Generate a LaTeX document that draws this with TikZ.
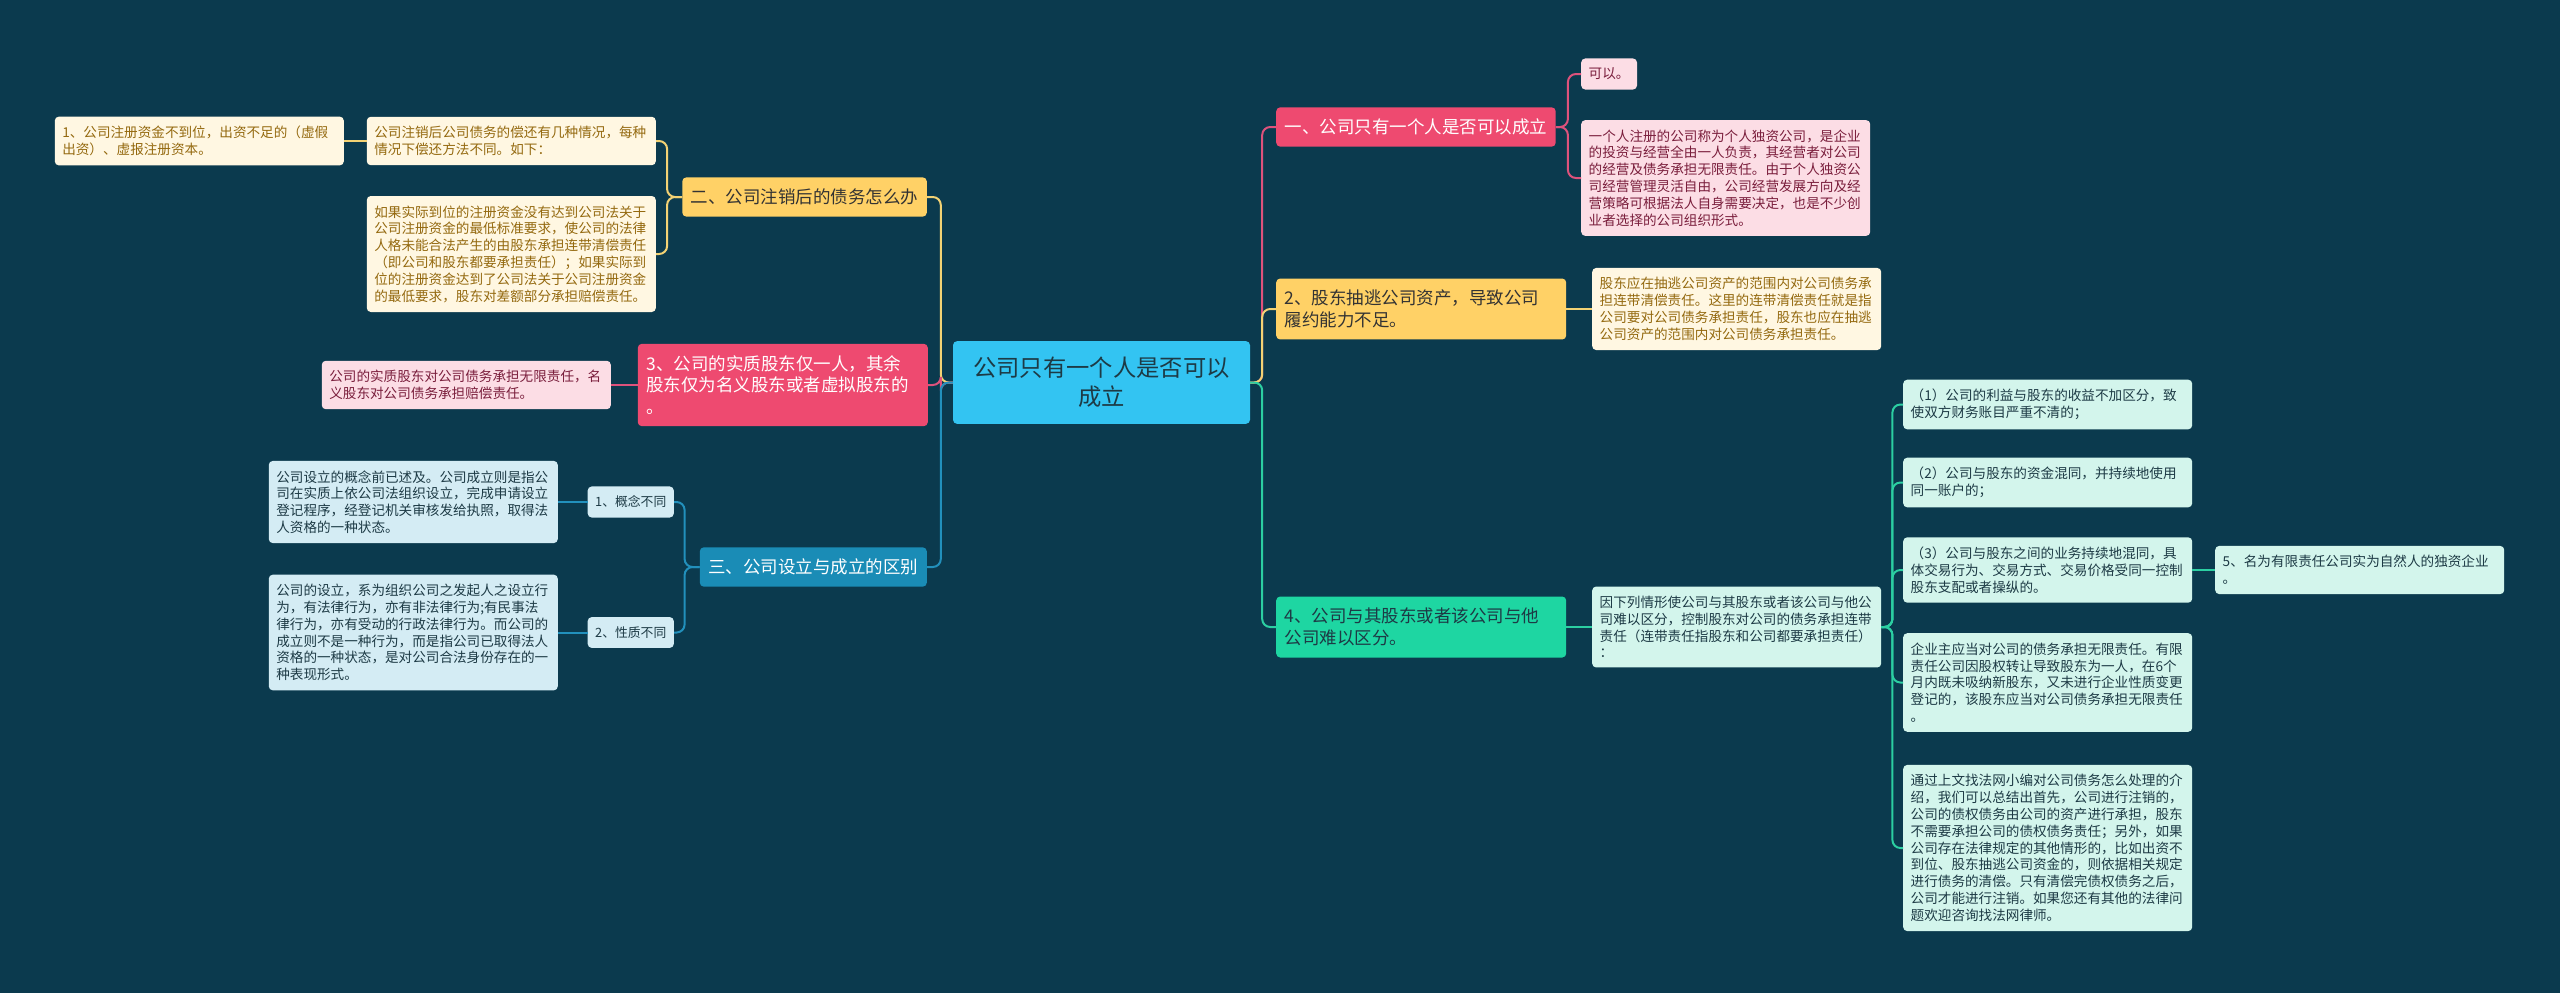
\documentclass[tikz,border=0pt]{standalone}
\usepackage{fontspec}
\setmainfont{Noto Sans CJK SC}
\usetikzlibrary{positioning,calc}
\definecolor{bgc}{HTML}{0B3A4E}
\definecolor{rootc}{HTML}{33C4F2}
\definecolor{redc}{HTML}{EE4A70}
\definecolor{yelc}{HTML}{FFD166}
\definecolor{grnc}{HTML}{1ED6A2}
\definecolor{bluc}{HTML}{1A8CB6}
\definecolor{pinkleaf}{HTML}{FCDDE5}
\definecolor{creamleaf}{HTML}{FFF7E2}
\definecolor{mintleaf}{HTML}{D3F5EC}
\definecolor{iceleaf}{HTML}{D4ECF4}
\definecolor{maroon}{HTML}{7A1E3C}
\definecolor{gold}{HTML}{94690F}
\definecolor{darkc}{HTML}{1D3A45}
\definecolor{pinkl}{HTML}{DE527C}
\definecolor{yell}{HTML}{F3D274}
\definecolor{grnl}{HTML}{2CCFA2}
\definecolor{blul}{HTML}{2290BC}

\tikzset{
  box/.style={rounded corners=4bp, inner xsep=7.5bp, inner ysep=9.5bp, align=left},
  small/.style={font=\fontsize{13.6bp}{16.8bp}\selectfont},
  leaf/.style={box, small, text width=274bp},
  tag/.style={box, font=\fontsize{12.8bp}{15bp}\selectfont, fill=iceleaf, text=darkc},
  topic/.style={box, inner xsep=8.5bp, inner ysep=11.5bp, font=\fontsize{17.5bp}{21.7bp}\selectfont},
  wide/.style={topic, text width=273bp},
  redbox/.style={fill=redc, text=white},
  yelbox/.style={fill=yelc, text=black!80},
  grnbox/.style={fill=grnc, text=darkc},
  blubox/.style={fill=bluc, text=white},
  pinkbox/.style={fill=pinkleaf, text=maroon},
  creambox/.style={fill=creamleaf, text=gold},
  mintbox/.style={fill=mintleaf, text=darkc},
  icebox/.style={fill=iceleaf, text=darkc},
  link/.style={line width=2bp, rounded corners=8bp}
}

\begin{document}
\begin{tikzpicture}[x=1bp, y=-1bp]
\fill[bgc] (0,0) rectangle (2560,993);
\useasboundingbox (0,0) rectangle (2560,993);

\node[box, fill=rootc, text=darkc, text width=258bp, inner xsep=19.5bp, inner ysep=16bp,
      align=center, font=\fontsize{23.3bp}{29bp}\selectfont] (root) at (1101.5,382.5)
      {公司只有一个人是否可以\\成立};

% right side
\node[topic, redbox, anchor=west] (n1) at (1276,127) {一、公司只有一个人是否可以成立};
\node[box, small, pinkbox, anchor=west] (n1a) at (1581,74) {可以。};
\node[leaf, pinkbox, anchor=west] (n1b) at (1581,178)
  {一个人注册的公司称为个人独资公司，是企业\\的投资与经营全由一人负责，其经营者对公司\\的经营及债务承担无限责任。由于个人独资公\\司经营管理灵活自由，公司经营发展方向及经\\营策略可根据法人自身需要决定，也是不少创\\业者选择的公司组织形式。};

\node[wide, yelbox, anchor=west] (n2) at (1276,309) {2、股东抽逃公司资产，导致公司\\履约能力不足。};
\node[leaf, creambox, anchor=west] (n2a) at (1592,309)
  {股东应在抽逃公司资产的范围内对公司债务承\\担连带清偿责任。这里的连带清偿责任就是指\\公司要对公司债务承担责任，股东也应在抽逃\\公司资产的范围内对公司债务承担责任。};

\node[wide, grnbox, anchor=west] (n4) at (1276,627) {4、公司与其股东或者该公司与他\\公司难以区分。};
\node[leaf, mintbox, anchor=west] (n4a) at (1592,627)
  {因下列情形使公司与其股东或者该公司与他公\\司难以区分，控制股东对公司的债务承担连带\\责任（连带责任指股东和公司都要承担责任）\\：};

\node[leaf, mintbox, anchor=west] (c1) at (1903,404.5) {（1）公司的利益与股东的收益不加区分，致\\使双方财务账目严重不清的；};
\node[leaf, mintbox, anchor=west] (c2) at (1903,482.5) {（2）公司与股东的资金混同，并持续地使用\\同一账户的；};
\node[leaf, mintbox, anchor=west] (c3) at (1903,570) {（3）公司与股东之间的业务持续地混同，具\\体交易行为、交易方式、交易价格受同一控制\\股东支配或者操纵的。};
\node[leaf, mintbox, anchor=west] (c5) at (2215,570) {5、名为有限责任公司实为自然人的独资企业\\。};
\node[leaf, mintbox, anchor=west] (c4) at (1903,682.5)
  {企业主应当对公司的债务承担无限责任。有限\\责任公司因股权转让导致股东为一人，在6个\\月内既未吸纳新股东，又未进行企业性质变更\\登记的，该股东应当对公司债务承担无限责任\\。};
\node[leaf, mintbox, anchor=west] (c6) at (1903,848)
  {通过上文找法网小编对公司债务怎么处理的介\\绍，我们可以总结出首先，公司进行注销的，\\公司的债权债务由公司的资产进行承担，股东\\不需要承担公司的债权债务责任；另外，如果\\公司存在法律规定的其他情形的，比如出资不\\到位、股东抽逃公司资金的，则依据相关规定\\进行债务的清偿。只有清偿完债权债务之后，\\公司才能进行注销。如果您还有其他的法律问\\题欢迎咨询找法网律师。};

% left side
\node[topic, yelbox, anchor=east] (m2) at (927,197) {二、公司注销后的债务怎么办};
\node[leaf, creambox, anchor=east] (m2a) at (656,141) {公司注销后公司债务的偿还有几种情况，每种\\情况下偿还方法不同。如下：};
\node[leaf, creambox, anchor=east] (m2a1) at (344,141) {1、公司注册资金不到位，出资不足的（虚假\\出资）、虚报注册资本。};
\node[leaf, creambox, anchor=east] (m2b) at (656,254)
  {如果实际到位的注册资金没有达到公司法关于\\公司注册资金的最低标准要求，使公司的法律\\人格未能合法产生的由股东承担连带清偿责任\\（即公司和股东都要承担责任）；如果实际到\\位的注册资金达到了公司法关于公司注册资金\\的最低要求，股东对差额部分承担赔偿责任。};

\node[wide, redbox, anchor=east] (m3) at (928,385) {3、公司的实质股东仅一人，其余\\股东仅为名义股东或者虚拟股东的\\。};
\node[leaf, pinkbox, anchor=east] (m3a) at (611,385) {公司的实质股东对公司债务承担无限责任，名\\义股东对公司债务承担赔偿责任。};

\node[topic, blubox, anchor=east] (m5) at (927,567) {三、公司设立与成立的区别};
\node[tag, anchor=east] (m5a) at (674,502) {1、概念不同};
\node[tag, anchor=east] (m5b) at (674,632.5) {2、性质不同};
\node[leaf, icebox, anchor=east] (m5a1) at (558,502)
  {公司设立的概念前已述及。公司成立则是指公\\司在实质上依公司法组织设立，完成申请设立\\登记程序，经登记机关审核发给执照，取得法\\人资格的一种状态。};
\node[leaf, icebox, anchor=east] (m5b1) at (558,632.5)
  {公司的设立，系为组织公司之发起人之设立行\\为，有法律行为，亦有非法律行为;有民事法\\律行为，亦有受动的行政法律行为。而公司的\\成立则不是一种行为，而是指公司已取得法人\\资格的一种状态，是对公司合法身份存在的一\\种表现形式。};

% links
\draw[link, pinkl] (root.east) -- ++(12,0) |- (n1.west);
\draw[link, yell]  (root.east) -- ++(12,0) |- (n2.west);
\draw[link, grnl]  (root.east) -- ++(12,0) |- (n4.west);
\draw[link, yell]  (root.west) -- ++(-12,0) |- (m2.east);
\draw[link, pinkl] (root.west) -- ++(-12,0) |- (m3.east);
\draw[link, blul]  (root.west) -- ++(-12,0) |- (m5.east);

\foreach \c in {n1a,n1b} \draw[link, pinkl] (n1.east) -- ++(12,0) |- (\c.west);
\draw[link, yell] (n2.east) -- (n2a.west);
\draw[link, grnl] (n4.east) -- (n4a.west);
\foreach \c in {c1,c2,c3,c4,c6} \draw[link, grnl] (n4a.east) -- ++(11,0) |- (\c.west);
\draw[link, grnl] (c3.east) -- (c5.west);

\foreach \c in {m2a,m2b} \draw[link, yell] (m2.west) -- ++(-15,0) |- (\c.east);
\draw[link, yell] (m2a.west) -- (m2a1.east);
\draw[link, pinkl] (m3.west) -- (m3a.east);
\foreach \c in {m5a,m5b} \draw[link, blul] (m5.west) -- ++(-15,0) |- (\c.east);
\draw[link, blul] (m5a.west) -- (m5a1.east);
\draw[link, blul] (m5b.west) -- (m5b1.east);
\end{tikzpicture}
\end{document}
